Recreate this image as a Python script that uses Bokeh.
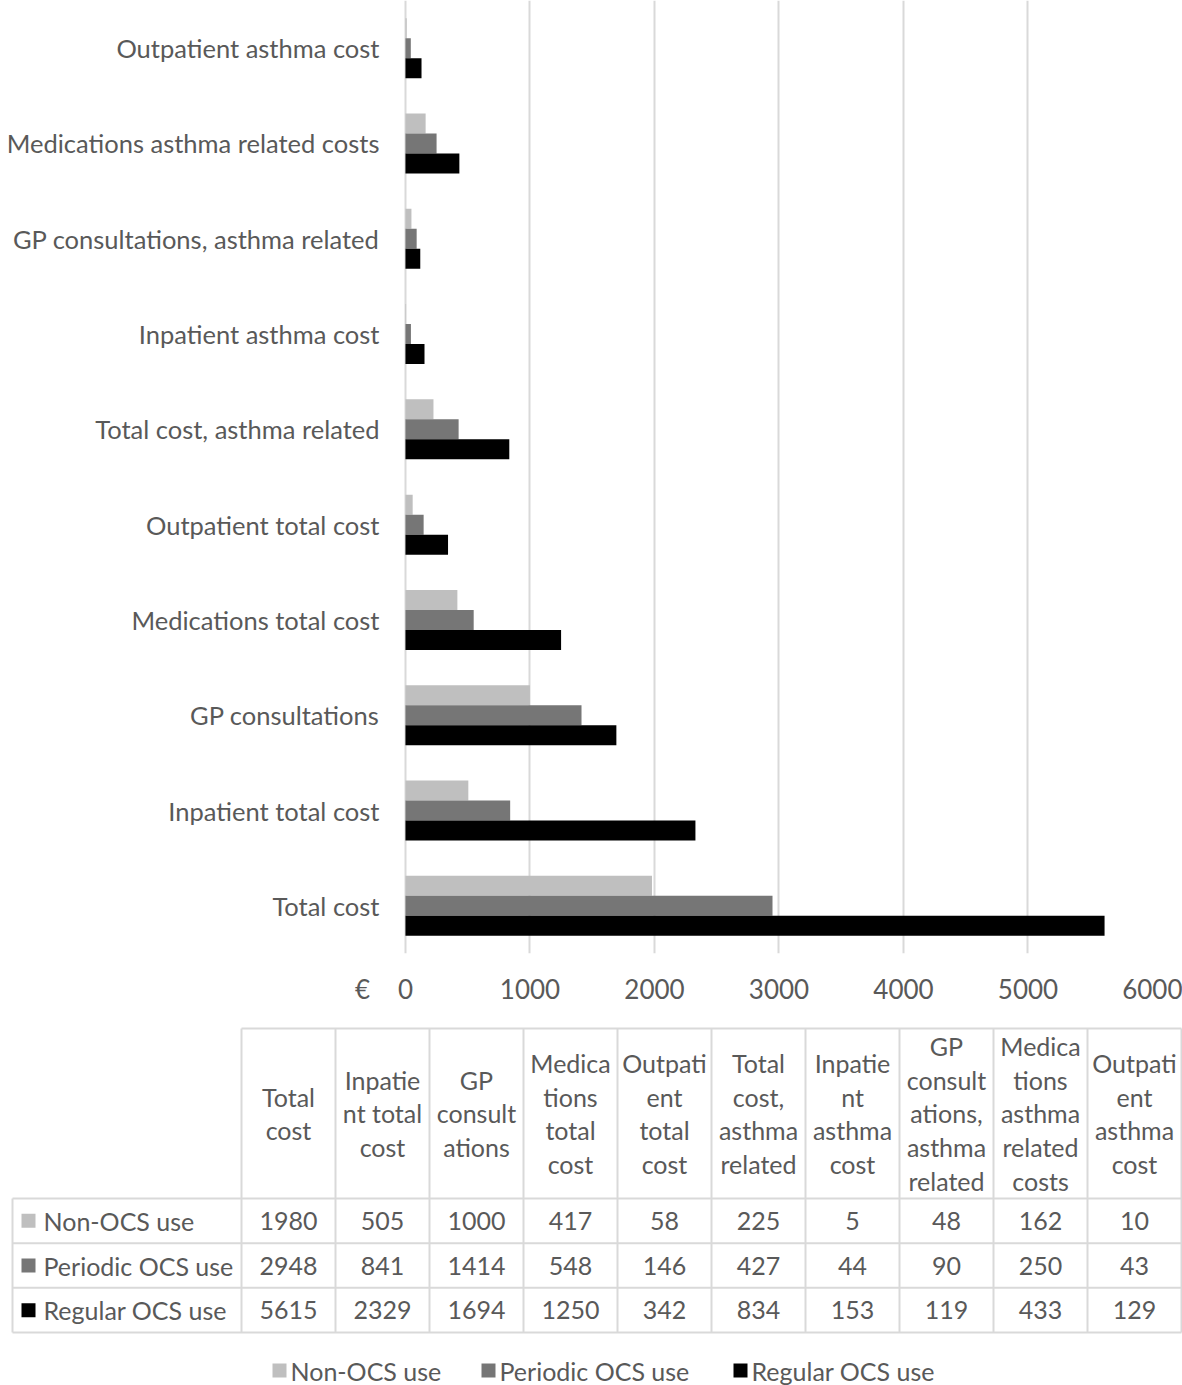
from bokeh.plotting import figure
from bokeh.layouts import column
from bokeh.models import ColumnDataSource, FactorRange, Range1d, FixedTicker
from bokeh.transform import dodge
from bokeh.core.properties import value
from bokeh.embed import file_html
from bokeh.resources import INLINE

# ---------------- data ----------------
categories = ["Total cost", "Inpatient total cost", "GP consultations",
              "Medications total cost", "Outpatient total cost",
              "Total cost, asthma related", "Inpatient asthma cost",
              "GP consultations, asthma related",
              "Medications asthma related costs", "Outpatient asthma cost"]
series_names = ["Non-OCS use", "Periodic OCS use", "Regular OCS use"]
non_ocs = [1980, 505, 1000, 417, 58, 225, 5, 48, 162, 10]
periodic_ocs = [2948, 841, 1414, 548, 146, 427, 44, 90, 250, 43]
regular_ocs = [5615, 2329, 1694, 1250, 342, 834, 153, 119, 433, 129]
table_headers = ["Total\ncost", "Inpatie\nnt total\ncost", "GP\nconsult\nations",
                 "Medica\ntions\ntotal\ncost", "Outpati\nent\ntotal\ncost",
                 "Total\ncost,\nasthma\nrelated", "Inpatie\nnt\nasthma\ncost",
                 "GP\nconsult\nations,\nasthma\nrelated",
                 "Medica\ntions\nasthma\nrelated\ncosts",
                 "Outpati\nent\nasthma\ncost"]
x_ticks = [0, 1000, 2000, 3000, 4000, 5000, 6000]
currency_label = "€"
currency_pos = -345   # where the currency sign sits on the value axis (left of 0)

# ---------------- style ----------------
FONT = "Lato"
TXT = "#595959"
GRID = "#d9d9d9"
COLORS = ["#bfbfbf", "#767676", "#000000"]
FS_Y = "25.5px"
FS_X = "26px"
FS_TAB = "25px"

W = 1182
H1 = 1007
H2 = 378

# ---------------- bar chart ----------------
p = figure(width=W, height=H1,
           y_range=FactorRange(factors=categories),
           x_range=Range1d(currency_pos, 6000),
           output_backend="svg", toolbar_location=None,
           min_border_left=362, min_border_right=30,
           min_border_top=0, min_border_bottom=H1 - 953)
p.frame_align = False
p.outline_line_color = None
p.background_fill_color = "white"
p.border_fill_color = "white"

src = ColumnDataSource(dict(cat=categories, non=non_ocs, per=periodic_ocs, reg=regular_ocs))
bh = 0.21
for key, off, col in [("non", bh, COLORS[0]), ("per", 0.0, COLORS[1]), ("reg", -bh, COLORS[2])]:
    p.hbar(y=dodge("cat", off, range=p.y_range), right=key, left=0, height=bh,
           source=src, fill_color=col, line_color=None)

p.ygrid.grid_line_color = None
p.xgrid.ticker = FixedTicker(ticks=x_ticks)
p.xgrid.grid_line_color = GRID
p.xgrid.grid_line_width = 2
p.xaxis.ticker = FixedTicker(ticks=[currency_pos] + x_ticks)
p.xaxis.major_label_overrides = {currency_pos: currency_label}
for ax, fs in ((p.xaxis[0], FS_X), (p.yaxis[0], FS_Y)):
    ax.axis_line_color = None
    ax.major_tick_line_color = None
    ax.minor_tick_line_color = None
    ax.major_tick_out = 0
    ax.major_tick_in = 0
    ax.minor_tick_out = 0
    ax.major_label_text_font = FONT
    ax.major_label_text_font_size = fs
    ax.major_label_text_color = TXT
p.xaxis.major_label_standoff = 19
p.yaxis.major_label_standoff = -17

# ---------------- data table ----------------
p2 = figure(width=W, height=H2, x_range=Range1d(0, W), y_range=Range1d(H2, 0),
            output_backend="svg", toolbar_location=None,
            x_axis_location=None, y_axis_location=None, min_border=0)
p2.frame_align = False
p2.grid.visible = False
p2.outline_line_color = None
p2.background_fill_color = "white"
p2.border_fill_color = "white"

tab_left = 12
first_col = 241
col_w = 94.0
head_top = 21
head_bot = 191
row_h = (325 - 191) / 3
n_cols = len(categories)
right_edge = first_col + n_cols * col_w
row_lines = [head_bot + i * row_h for i in range(4)]

x0s, y0s, x1s, y1s = [], [], [], []
x0s.append(first_col); y0s.append(head_top); x1s.append(right_edge); y1s.append(head_top)
for yl in row_lines:
    x0s.append(tab_left); y0s.append(yl); x1s.append(right_edge); y1s.append(yl)
x0s.append(tab_left); y0s.append(head_bot); x1s.append(tab_left); y1s.append(row_lines[-1])
for i in range(n_cols + 1):
    xx = first_col + i * col_w
    x0s.append(xx); y0s.append(head_top); x1s.append(xx); y1s.append(row_lines[-1])
p2.segment(x0=x0s, y0=y0s, x1=x1s, y1=y1s, line_color=GRID, line_width=2)

col_centers = [first_col + col_w / 2 + i * col_w for i in range(n_cols)]
p2.text(x=col_centers, y=[(head_top + head_bot) / 2] * n_cols, text=table_headers,
        text_align="center", text_baseline="middle", text_font=value(FONT),
        text_font_size=FS_TAB, text_color=TXT, text_line_height=1.12)

for r, (name, vals, col) in enumerate(zip(series_names, [non_ocs, periodic_ocs, regular_ocs], COLORS)):
    yc = row_lines[r] + row_h / 2
    p2.rect(x=[28], y=[yc], width=14, height=14, fill_color=col, line_color=None)
    p2.text(x=[43], y=[yc], text=[name], text_align="left", text_baseline="middle",
            text_font=value(FONT), text_font_size=FS_TAB, text_color=TXT)
    p2.text(x=col_centers, y=[yc] * n_cols, text=[str(v) for v in vals],
            text_align="center", text_baseline="middle", text_font=value(FONT),
            text_font_size=FS_TAB, text_color=TXT)

# bottom legend
leg_y = 363
leg_x = [279, 488, 740]
for name, col, lx in zip(series_names, COLORS, leg_x):
    p2.rect(x=[lx], y=[leg_y], width=14, height=14, fill_color=col, line_color=None)
    p2.text(x=[lx + 11], y=[leg_y], text=[name], text_align="left", text_baseline="middle",
            text_font=value(FONT), text_font_size=FS_TAB, text_color=TXT)

layout = column(p, p2, spacing=0)
open("out.html", "w").write(file_html(layout, INLINE))
